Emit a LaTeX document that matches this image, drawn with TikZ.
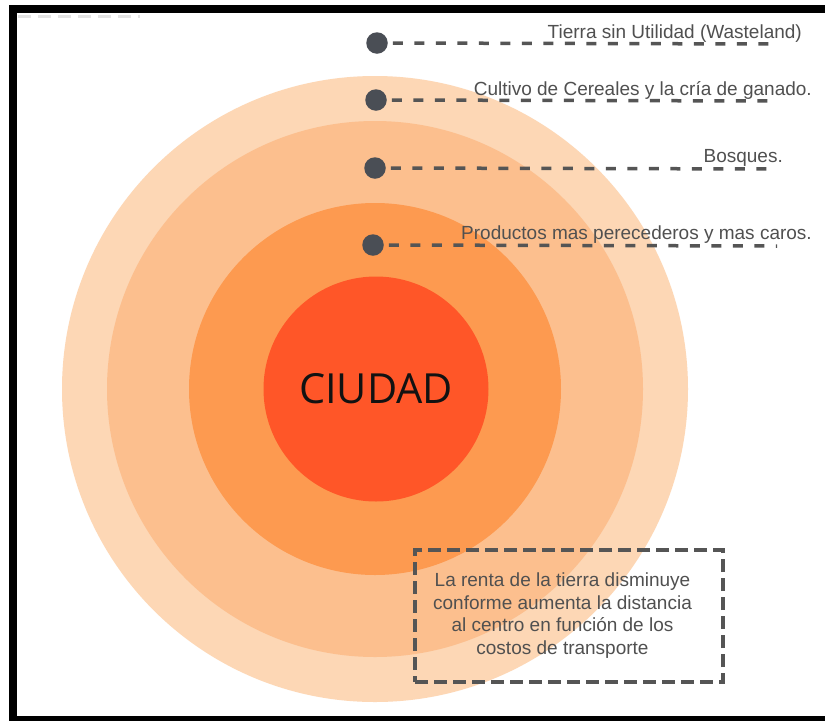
\documentclass[tikz,border=0pt]{standalone}
\usepackage{fontspec}
\setmainfont{Liberation Sans}
\newfontfamily\cityfont{Open Sans}
\definecolor{ringA}{RGB}{253,215,181}
\definecolor{ringB}{RGB}{252,191,142}
\definecolor{ringC}{RGB}{253,154,80}
\definecolor{ringD}{RGB}{255,86,40}
\definecolor{dotgray}{RGB}{74,78,85}
\definecolor{dashgray}{RGB}{85,85,85}
\definecolor{txtgray}{RGB}{80,80,80}
\begin{document}
\begin{tikzpicture}[x=1pt,y=-1pt,
  ring/.style={circle, draw=none, inner sep=0pt},
  zonedot/.style={circle, fill=dotgray, inner sep=0pt, minimum size=21.5pt},
  leader/.style={draw=dashgray, line width=3.5pt, dash pattern=on 10pt off 11.5pt, dash phase=16.5pt},
  zonetext/.style={anchor=base east, inner sep=0pt, text=txtgray, font=\fontsize{19}{22.5}\selectfont},
  notebox/.style={draw=dashgray, line width=4pt, dash pattern=on 13pt off 6pt, minimum width=308pt, minimum height=132pt, inner sep=0pt, text=txtgray, font=\fontsize{19}{22.5}\selectfont}
]
\useasboundingbox (0,0) rectangle (825,721);
\fill[white] (0,0) rectangle (825,721);

% faint remnant dashes at top left
\draw[gray!22, line width=3pt, dash pattern=on 13pt off 7pt] (18,16.5) -- (140,16.5);

% concentric zones
\node[ring, fill=ringA, minimum size=626pt] (zoneA) at (375,389) {};
\node[ring, fill=ringB, minimum size=536pt] (zoneB) at (375,389) {};
\node[ring, fill=ringC, minimum size=372pt] (zoneC) at (375,389) {};
\node[ring, fill=ringD, minimum size=225pt, font=\cityfont\fontsize{41.5}{48}\selectfont, text=black!93] (city) at (376,389) {CIUDAD};

% leaders
\node[zonedot] (d1) at (377,43) {};
\node[zonedot] (d2) at (376,100) {};
\node[zonedot] (d3) at (375,168) {};
\node[zonedot] (d4) at (373,245) {};
\coordinate (e1) at (777,44);
\coordinate (e2) at (777,101);
\coordinate (e3) at (777,169);
\coordinate (e4) at (777,246);
\draw[leader] (d1.east) -- (e1);
\draw[leader] (d2.east) -- (e2);
\draw[leader] (d3.east) -- (e3);
\draw[leader] (d4.east) -- (e4);

\node[zonetext] (t1) at (802,38) {Tierra sin Utilidad (Wasteland)};
\node[zonetext] (t2) at (812,95) {Cultivo de Cereales y la cría de ganado.};
\node[zonetext] (t3) at (783,162) {Bosques.};
\node[zonetext] (t4) at (812,239) {Productos mas perecederos y mas caros.};

% note box
\node[notebox] (note) at (569,616) {\begin{tabular}{@{}c@{\hspace{13pt}}}La renta de la tierra disminuye\\conforme aumenta la distancia\\al centro en función de los\\costos de transporte\end{tabular}};

% frame
\fill[black] (9,5) rectangle (825,13);
\fill[black] (9,5) rectangle (17,721);
\fill[black] (9,716) rectangle (825,721);
\end{tikzpicture}
\end{document}
